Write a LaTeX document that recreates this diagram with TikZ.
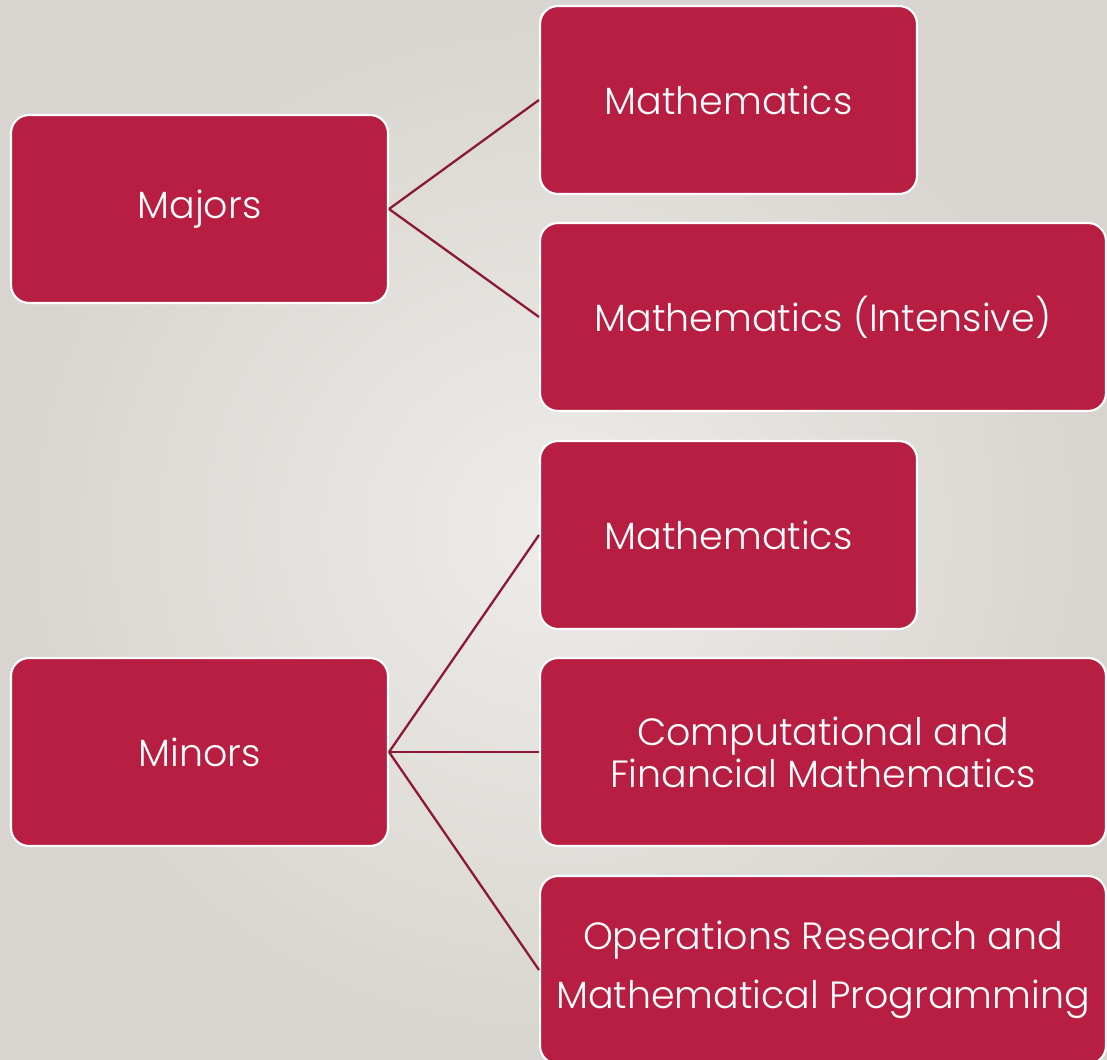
\documentclass[tikz,border=0pt]{standalone}
\usepackage{fontspec}
\setmainfont{Poppins}[UprightFont=* Light]
\definecolor{boxred}{HTML}{B81E42}
\definecolor{linkred}{HTML}{8C1836}
\definecolor{bginner}{HTML}{EEECE9}
\definecolor{bgouter}{HTML}{D8D5D0}
\tikzset{
  item/.style={draw=white, line width=1.2pt, fill=boxred, rounded corners=0.36cm,
    text=white, align=center, minimum height=3.76cm, inner sep=0pt,
    font=\fontsize{21.6}{24}\selectfont},
  short/.style={item, minimum width=7.54cm},
  long/.style={item, minimum width=11.32cm},
  link/.style={linkred, line width=1.3pt}
}
\begin{document}
\begin{tikzpicture}[x=0.02cm,y=-0.02cm]
\clip (0,0) rectangle (1107,1060);
\shade[inner color=bginner, outer color=bgouter] (0,0) rectangle (1107,1060);
% majors
\node[short] (majors) at (199.5,209) {Majors};
\node[short] (majmath) at (728.5,100) {Mathematics};
\node[long] (majint) at (823,317) {Mathematics (Intensive)};
% minors
\node[short] (minors) at (199.5,752) {Minors};
\node[short] (minmath) at (728.5,535) {Mathematics};
\node[long] (mincomp) at (823,752) {Computational and\\Financial Mathematics};
\node[long] (minor) at (823,970) {Operations Research and\\[9.6pt]Mathematical Programming};
\draw[link] (majors.east) -- (majmath.west);
\draw[link] (majors.east) -- (majint.west);
\draw[link] (minors.east) -- (minmath.west);
\draw[link] (minors.east) -- (mincomp.west);
\draw[link] (minors.east) -- (minor.west);
\end{tikzpicture}
\end{document}
